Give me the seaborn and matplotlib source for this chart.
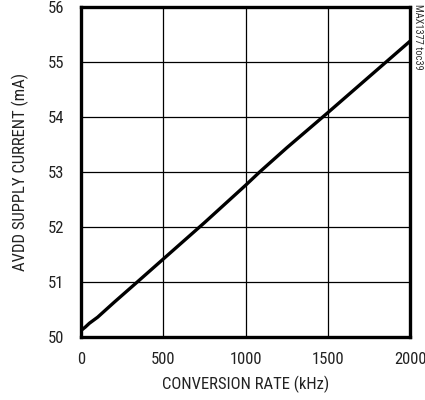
import numpy as np
import pandas as pd
import matplotlib
matplotlib.use("Agg")
import matplotlib.pyplot as plt
import seaborn as sns

# values
conv_rate = [0, 25, 50, 100, 200, 341, 500, 750, 1000, 1085, 1250, 1500, 1750, 2000]
avdd_current = [50.12, 50.18, 50.25, 50.36, 50.63, 51.0, 51.42, 52.08, 52.76, 53.0, 53.44, 54.08, 54.73, 55.38]

x_ticks = [0, 500, 1000, 1500, 2000]
y_ticks = [50, 51, 52, 53, 54, 55, 56]

df = pd.DataFrame({'rate': conv_rate, 'current': avdd_current})

sns.set_style('white')
plt.rcParams['font.family'] = ['Roboto Condensed', 'DejaVu Sans']

fig = plt.figure(figsize=(4.25, 4.0), dpi=100)
ax = fig.add_axes([0.191, 0.1575, 0.774, 0.825])

sns.lineplot(data=df, x='rate', y='current', color='black', linewidth=2.4, ax=ax)

ax.set_xlim(0, 2000)
ax.set_ylim(50, 56)
ax.set_xticks(x_ticks)
ax.set_yticks(y_ticks)
ax.grid(True, color='black', linewidth=0.9)
ax.tick_params(length=0, labelsize=12, colors='#222222')
ax.tick_params(axis='y', pad=12)
ax.tick_params(axis='x', pad=11)
for s in ax.spines.values():
    s.set_linewidth(2.4)
    s.set_color('black')

ax.set_xlabel('CONVERSION RATE (kHz)', fontsize=12, color='#222222', labelpad=6)
ax.set_ylabel('AVDD SUPPLY CURRENT (mA)', fontsize=12, color='#222222', labelpad=14)

fig.text(0.983, 0.99, 'MAX1377 toc39', rotation=-90, ha='center', va='top',
         fontsize=7.5, color='#333333')

fig.savefig('out.png', dpi=100)
